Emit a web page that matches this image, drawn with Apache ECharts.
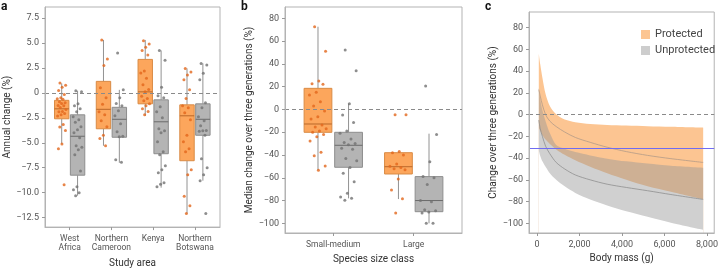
<!DOCTYPE html>
<html>
<head>
<meta charset="utf-8">
<script src="https://cdn.jsdelivr.net/npm/echarts@6/dist/echarts.min.js"></script>
<style>
html, body { margin: 0; padding: 0; background: #fff; }
#main { width: 721px; height: 273px; }
</style>
</head>
<body>
<div id="main"></div>
<script>
// panel a: annual change by study area
var areasA = ['West\nAfrica', 'Northern\nCameroon', 'Kenya', 'Northern\nBotswana'];
var ticksA = [-12.5, -10, -7.5, -5, -2.5, 0, 2.5, 5, 7.5];
// [min, q1, median, q3, max]
var protBoxA = [
    [-5.1, -2.6, -1.6, -0.75, 0.95],
    [-5.3, -3.6, -1.65, 1.15, 5.3],
    [-2.3, -1.1, 0.1, 3.35, 5.3],
    [-12.1, -6.8, -2.3, -1.2, 2.45]
];
var unprBoxA = [
    [-10.3, -8.25, -4.35, -2.2, 0.2],
    [-7.0, -4.45, -2.65, -1.45, 0.3],
    [-9.5, -6.1, -2.9, -0.7, 4.25],
    [-8.8, -4.25, -2.65, -1.1, 2.95]
];
var protPtsA = [
    [0.98, 0.75, 0.56, 0.23, -0.16, -0.49, -0.6, -0.65, -0.88, -1.0, -1.08, -1.27, -1.3, -1.47, -1.67, -1.86, -1.9, -2.06, -2.2, -2.32, -3.17, -3.43, -3.76, -5.13, -5.6, -9.2],
    [5.3, 3.4, 2.75, 0.5, -0.5, -1.15, -1.9, -2.2, -2.8, -3.4, -4.25, -4.57, -5.3],
    [5.23, 4.9, 4.58, 4.25, 3.8, 2.19, 2.0, 1.47, 0.82, 0.33, 0.1, -0.33, -0.56, -0.8, -1.1, -1.3, -1.6, -1.86, -2.2],
    [2.45, 2.1, 1.8, 1.3, 0.3, -0.56, -1.3, -1.5, -2.0, -2.7, -4.25, -4.9, -5.6, -5.9, -7.7, -8.2, -10.36, -11.3, -12.1]
];
var unprPtsA = [
    [0.2, 0.1, -1.1, -1.3, -1.6, -1.9, -2.4, -2.7, -2.94, -3.4, -3.7, -4.0, -4.5, -5.3, -5.46, -5.7, -6.2, -7.84, -9.4, -9.7, -10.0, -10.3],
    [4.0, 0.3, -0.5, -1.08, -1.3, -1.8, -2.3, -3.1, -3.9, -4.35, -4.4, -6.7, -6.96],
    [4.25, 3.26, 0.56, -0.3, -0.5, -1.4, -1.9, -2.5, -3.6, -3.8, -4.0, -4.9, -5.9, -6.2, -7.3, -7.7, -8.0, -9.0, -9.15, -9.4],
    [2.94, 2.8, 1.96, 1.3, -0.98, -1.5, -2.4, -2.8, -3.3, -3.76, -3.8, -3.85, -4.25, -6.6, -7.5, -8.2, -8.8, -12.1]
];

// panel b: median change by size class
var sizesB = ['Small-medium', 'Large'];
var ticksB = [-100, -80, -60, -40, -20, 0, 20, 40, 60, 80];
var protBoxB = [
    [-53.2, -20.1, -12.8, 18.5, 72.6],
    [-78.7, -56.7, -50.3, -38, -37]
];
var unprBoxB = [
    [-78.1, -50.8, -31.5, -20.1, 5.0],
    [-100, -89.8, -80, -59, -21.3]
];
var protPtsB = [
    [72.6, 51, 24.9, 22.6, 22, 15, 12.6, 6.8, 3, -1.4, -6.4, -8.5, -13.7, -15.5, -17, -19, -20, -22, -24, -27.7, -37.7, -40.6, -49.7, -53.5],
    [-4.6, -4.6, -37, -38, -40, -48, -50, -51, -52, -53, -61, -70.8, -78.5, -91]
];
var unprPtsB = [
    [52.2, 34, 5, -5, -11.4, -19, -21, -26, -29, -30, -31, -34, -35, -43, -45, -51, -56, -63.5, -73.7, -77, -78, -79.7],
    [20.5, -22, -46, -59, -60, -66, -80, -81, -88, -89, -90, -91, -100, -100]
];

// panel c: change over three generations vs body mass
var massC     = [80, 150, 250, 400, 600, 900, 1300, 1800, 2500, 3300, 4200, 5200, 6300, 7820];
var protUpper = [56, 46, 34, 19, 8, 0.3, -4.5, -7, -8.6, -9.5, -10.1, -10.6, -11.2, -12];
var protMean  = [23, 17, 9, 0, -6, -11, -16, -21, -25.5, -30, -34, -37.5, -40.5, -44];
var protLower = [-12, -15, -19, -23, -27, -32, -37, -42, -48, -54, -60, -66, -71, -78];
var unprUpper = [25, 14, 4, -6, -17, -28, -31.5, -34.5, -37.5, -40.5, -43, -45, -47, -48.8];
var unprMean  = [-5, -13, -20, -29, -36, -44, -50, -55.5, -60, -64, -67, -70, -73.5, -78];
var unprLower = [-33, -38, -43, -48, -54, -60, -66, -72, -78, -83.5, -89, -94, -99.5, -106];
var ticksC = [-100, -80, -60, -40, -20, 0, 20, 40, 60, 80];
var massTicks = [0, 2000, 4000, 6000, 8000];
var redListLine = -30.5;

var BOX_W = 0.345, OFF = 0.19;
var WHISKER = '#929292';
var FONT = 'Roboto';

function minus(s) { return String(s).replace('-', '\u2212'); }
function jit(i) { return (((i * 0.618034 + 0.31) % 1) - 0.5) * 0.22; }

function boxData(boxes, off) {
    return boxes.map(function (b, i) { return [i + off].concat(b); });
}
function dotData(groups, off) {
    var out = [];
    groups.forEach(function (vals, i) {
        vals.forEach(function (v, k) { out.push([i + off + jit(k), v]); });
    });
    return out;
}
function pairs(xs, ys) { return xs.map(function (x, i) { return [x, ys[i]]; }); }

function boxRender(fill, stroke, med) {
    return function (params, api) {
        var x = api.value(0);
        var lo = api.coord([x, api.value(1)]);
        var q1 = api.coord([x, api.value(2)]);
        var md = api.coord([x, api.value(3)]);
        var q3 = api.coord([x, api.value(4)]);
        var hi = api.coord([x, api.value(5)]);
        var hw = api.size([BOX_W, 0])[0] / 2;
        return {
            type: 'group',
            children: [
                { type: 'line', shape: { x1: hi[0], y1: hi[1], x2: q3[0], y2: q3[1] }, style: { stroke: WHISKER, lineWidth: 1 } },
                { type: 'line', shape: { x1: q1[0], y1: q1[1], x2: lo[0], y2: lo[1] }, style: { stroke: WHISKER, lineWidth: 1 } },
                { type: 'rect', shape: { x: q3[0] - hw, y: q3[1], width: hw * 2, height: q1[1] - q3[1] }, style: { fill: fill, stroke: stroke, lineWidth: 1 } },
                { type: 'line', shape: { x1: md[0] - hw, y1: md[1], x2: md[0] + hw, y2: md[1] }, style: { stroke: med, lineWidth: 1 } }
            ]
        };
    };
}

// band edge drawn as an area down to the axis floor; later layers mask or tint it
function bandEdge(name, ys, fill) {
    return {
        name: name, type: 'line', xAxisIndex: 2, yAxisIndex: 2, data: pairs(massC, ys),
        symbol: 'none', smooth: 0.3, lineStyle: { opacity: 0 },
        itemStyle: { color: fill }, areaStyle: { color: fill, opacity: 1, origin: 'start' }
    };
}

var axisLineStyle = { onZero: false, lineStyle: { color: '#b3b3b3', width: 1 } };
var tickStyle = { lineStyle: { color: '#999' }, length: 3 };
var labelStyle = { color: '#555', fontSize: 9, fontFamily: FONT };
var nameStyle = { color: '#333', fontSize: 10, fontFamily: FONT };
var zeroLine = {
    silent: true, symbol: 'none', label: { show: false },
    lineStyle: { color: '#8a8a8a', type: [4, 3], width: 1 },
    data: [{ yAxis: 0 }]
};

function catAxis(grid, cats, min, max, name, gap) {
    var idx = cats.map(function (c, i) { return i; });
    return {
        gridIndex: grid, type: 'value', min: min, max: max,
        axisLine: axisLineStyle, splitLine: { show: false },
        axisTick: Object.assign({ customValues: idx }, tickStyle),
        axisLabel: Object.assign({ customValues: idx, margin: 7, lineHeight: 9.5,
            formatter: function (v) { return cats[Math.round(v)]; } }, labelStyle, { fontSize: 8.5 }),
        name: name, nameLocation: 'middle', nameGap: gap, nameTextStyle: nameStyle
    };
}
function valAxis(grid, ticks, min, max, name, gap, fmt) {
    return {
        gridIndex: grid, type: 'value', min: min, max: max, z: 5,
        axisLine: Object.assign({ show: true }, axisLineStyle), splitLine: { show: false },
        axisTick: Object.assign({ show: true, customValues: ticks }, tickStyle),
        axisLabel: Object.assign({ customValues: ticks, margin: 6, formatter: fmt }, labelStyle),
        name: name, nameLocation: 'middle', nameGap: gap, nameTextStyle: nameStyle
    };
}

var chart = echarts.init(document.getElementById('main'));
var option = {
    animation: false,
    textStyle: { fontFamily: FONT },
    title: [
        { text: 'a', left: 1, top: 1, padding: 0, textStyle: { fontSize: 12, fontWeight: 'bold', color: '#111', fontFamily: FONT } },
        { text: 'b', left: 241, top: 1, padding: 0, textStyle: { fontSize: 12, fontWeight: 'bold', color: '#111', fontFamily: FONT } },
        { text: 'c', left: 485, top: 1, padding: 0, textStyle: { fontSize: 12, fontWeight: 'bold', color: '#111', fontFamily: FONT } }
    ],
    legend: {
        data: [
            { name: 'Protected', itemStyle: { color: '#fcc592' } },
            { name: 'Unprotected', itemStyle: { color: '#cdcdcd' } }
        ],
        orient: 'vertical', left: 641, top: 29, padding: 0, z: 10,
        itemWidth: 9, itemHeight: 9, itemGap: 5, icon: 'rect', selectedMode: false,
        textStyle: { fontSize: 11, color: '#444', fontFamily: FONT }
    },
    grid: [
        { left: 45, top: 7, width: 175, height: 226, show: true, borderColor: '#b3b3b3', borderWidth: 1 },
        { left: 285, top: 7, width: 177, height: 226, show: true, borderColor: '#b3b3b3', borderWidth: 1 },
        { left: 529, top: 12, width: 190, height: 221, show: true, borderColor: '#b3b3b3', borderWidth: 1, z: 5 }
    ],
    xAxis: [
        catAxis(0, areasA, -0.59, 3.6, 'Study area', 30),
        catAxis(1, sizesB, -0.6, 1.6, 'Species size class', 20),
        {
            gridIndex: 2, type: 'value', min: -381, max: 8340, z: 5,
            axisLine: axisLineStyle, splitLine: { show: false },
            axisTick: Object.assign({ customValues: massTicks }, tickStyle),
            axisLabel: Object.assign({ customValues: massTicks, margin: 7,
                formatter: function (v) { return v.toLocaleString('en-US'); } }, labelStyle),
            name: 'Body mass (g)', nameLocation: 'middle', nameGap: 20, nameTextStyle: nameStyle
        }
    ],
    yAxis: [
        valAxis(0, ticksA, -13.45, 8.6, 'Annual change (%)', 30,
            function (v) { return v === 0 ? '0' : minus(v.toFixed(1)); }),
        valAxis(1, ticksB, -108.5, 89.9, 'Median change over three generations (%)', 28,
            function (v) { return minus(v); }),
        valAxis(2, ticksC, -108.9, 94.4, 'Change over three generations (%)', 30,
            function (v) { return minus(v); })
    ],
    series: [
        // panel a
        { type: 'custom', xAxisIndex: 0, yAxisIndex: 0, data: boxData(protBoxA, -OFF),
          encode: { x: 0, y: [1, 2, 3, 4, 5] }, renderItem: boxRender('#fca65c', '#d98b45', '#b9682a') },
        { type: 'custom', xAxisIndex: 0, yAxisIndex: 0, data: boxData(unprBoxA, OFF),
          encode: { x: 0, y: [1, 2, 3, 4, 5] }, renderItem: boxRender('#b4b4b4', '#8e8e8e', '#6b6b6b') },
        { type: 'scatter', xAxisIndex: 0, yAxisIndex: 0, data: dotData(protPtsA, -OFF), symbolSize: 3,
          itemStyle: { color: '#e2661c' }, markLine: zeroLine },
        { type: 'scatter', xAxisIndex: 0, yAxisIndex: 0, data: dotData(unprPtsA, OFF), symbolSize: 3,
          itemStyle: { color: '#727272' } },
        // panel b
        { type: 'custom', xAxisIndex: 1, yAxisIndex: 1, data: boxData(protBoxB, -OFF),
          encode: { x: 0, y: [1, 2, 3, 4, 5] }, renderItem: boxRender('#fca65c', '#d98b45', '#b9682a') },
        { type: 'custom', xAxisIndex: 1, yAxisIndex: 1, data: boxData(unprBoxB, OFF),
          encode: { x: 0, y: [1, 2, 3, 4, 5] }, renderItem: boxRender('#b4b4b4', '#8e8e8e', '#6b6b6b') },
        { type: 'scatter', xAxisIndex: 1, yAxisIndex: 1, data: dotData(protPtsB, -OFF), symbolSize: 3,
          itemStyle: { color: '#e2661c' }, markLine: zeroLine },
        { type: 'scatter', xAxisIndex: 1, yAxisIndex: 1, data: dotData(unprPtsB, OFF), symbolSize: 3,
          itemStyle: { color: '#727272' } },
        // panel c bands: protected, masked below its lower edge, then translucent unprotected, masked
        bandEdge('Protected', protUpper, '#fcc592'),
        bandEdge('maskP', protLower, '#ffffff'),
        bandEdge('Unprotected', unprUpper, 'rgba(150,150,150,0.45)'),
        bandEdge('maskU', unprLower, '#ffffff'),
        { type: 'line', xAxisIndex: 2, yAxisIndex: 2, data: pairs(massC, protMean),
          symbol: 'none', smooth: 0.3, lineStyle: { color: '#b39b88', width: 0.8 } },
        { type: 'line', xAxisIndex: 2, yAxisIndex: 2, data: pairs(massC, unprMean),
          symbol: 'none', smooth: 0.3, lineStyle: { color: '#8f8f8f', width: 0.8 },
          markLine: {
              silent: true, symbol: 'none', label: { show: false },
              data: [
                  { yAxis: 0, lineStyle: { color: '#8a8a8a', type: [4, 3], width: 1 } },
                  { yAxis: redListLine, lineStyle: { color: '#6f6cf2', type: 'solid', width: 1 } }
              ]
          } }
    ]
};
chart.setOption(option);
</script>
</body>
</html>
